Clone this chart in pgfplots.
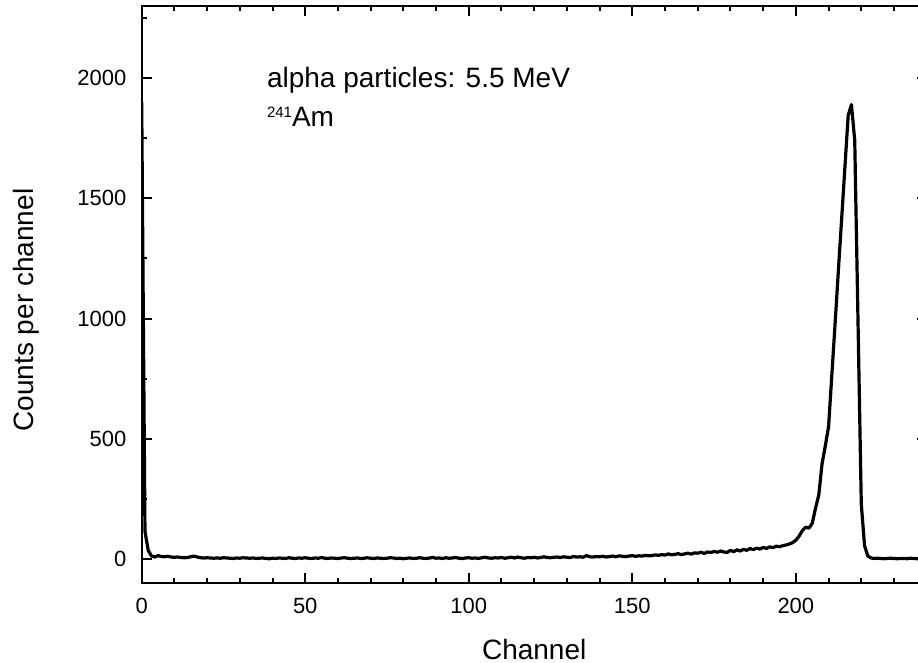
\documentclass[border=0pt]{standalone}
\usepackage{fontspec}
\setmainfont{Liberation Sans}
\usepackage{pgfplots}
\pgfplotsset{compat=1.18}
\begin{document}
\begin{tikzpicture}
\begin{axis}[
  name=ax,
  scale only axis,
  width=392.5pt, height=288.5pt,
  xmin=0, xmax=240, ymin=-100, ymax=2300,
  axis line style={line width=1pt},
  tick style={line width=1pt, black},
  tick align=inside,
  major tick length=5pt, minor tick length=2.5pt,
  xtick={0,50,100,150,200},
  minor xtick={10,20,30,40,60,70,80,90,110,120,130,140,160,170,180,190,210,220,230},
  ytick={0,500,1000,1500,2000},
  minor ytick={250,750,1250,1750,2250},
  tick label style={font=\fontsize{11}{13}\selectfont},
  /pgf/number format/assume math mode=true,
  /pgf/number format/1000 sep={},
  xticklabel style={anchor=north, inner sep=0pt, yshift=-7.5pt},
  yticklabel style={anchor=east, inner sep=0pt, xshift=-7.5pt},
  xlabel={Channel}, ylabel={Counts per channel},
  label style={font=\fontsize{14}{17}\selectfont},
  xlabel style={at={(axis description cs:0.5,-0.0971)}, anchor=north, inner sep=0pt},
  ylabel style={at={(axis description cs:-0.164,0.473)}, anchor=north, inner sep=0pt},
]
% spectrum, counts per channel
\addplot[line width=1.6pt, line join=round, black] coordinates {
(0,1900)(1,115)(2,35)(3,12)(4,8)(5,14)(6,10)(7,9)(8,11)(9,8)
(10,7)(11,8)(12,6)(13,5)(14,6)(15,9)(16,12)(17,8)(18,5)(19,4)
(20,5)(21,4)(22,3)(23,4)(24,3)(25,5)(26,4)(27,3)(28,2)(29,4)
(30,3)(31,5)(32,4)(33,3)(34,4)(35,2)(36,3)(37,4)(38,2)(39,1)
(40,3)(41,2)(42,4)(43,3)(44,2)(45,5)(46,3)(47,2)(48,4)(49,3)
(50,5)(51,3)(52,2)(53,4)(54,3)(55,6)(56,3)(57,2)(58,4)(59,3)
(60,2)(61,4)(62,5)(63,3)(64,2)(65,3)(66,4)(67,2)(68,3)(69,5)
(70,3)(71,2)(72,4)(73,3)(74,2)(75,3)(76,5)(77,4)(78,2)(79,3)
(80,1)(81,3)(82,4)(83,2)(84,3)(85,5)(86,3)(87,2)(88,4)(89,6)
(90,3)(91,4)(92,2)(93,5)(94,3)(95,4)(96,6)(97,3)(98,2)(99,4)
(100,5)(101,3)(102,4)(103,2)(104,5)(105,7)(106,4)(107,3)(108,5)(109,4)
(110,6)(111,3)(112,5)(113,7)(114,4)(115,8)(116,5)(117,3)(118,6)(119,5)
(120,7)(121,4)(122,6)(123,9)(124,6)(125,5)(126,7)(127,8)(128,6)(129,9)
(130,7)(131,6)(132,10)(133,8)(134,9)(135,7)(136,14)(137,9)(138,8)(139,10)
(140,9)(141,11)(142,8)(143,10)(144,12)(145,9)(146,13)(147,11)(148,10)(149,12)
(150,14)(151,11)(152,13)(153,12)(154,15)(155,13)(156,14)(157,17)(158,15)(159,18)
(160,16)(161,21)(162,17)(163,19)(164,22)(165,18)(166,21)(167,24)(168,20)(169,25)
(170,24)(171,28)(172,23)(173,29)(174,27)(175,31)(176,28)(177,33)(178,29)(179,27)
(180,36)(181,30)(182,38)(183,33)(184,40)(185,36)(186,43)(187,39)(188,45)(189,41)
(190,48)(191,44)(192,50)(193,47)(194,53)(195,51)(196,55)(197,58)(198,62)(199,68)
(200,78)(201,95)(202,118)(203,132)(204,128)(205,148)(206,210)(207,265)(208,395)(209,470)
(210,550)(211,765)(212,980)(213,1200)(214,1415)(215,1630)(216,1845)(217,1890)(218,1740)(219,990)
(220,230)(221,55)(222,12)(223,4)(224,2)(225,3)(226,2)(227,1)(228,2)(229,3)
(230,2)(231,1)(232,2)(233,2)(234,1)(235,3)(236,2)(237,1)(238,2)(239,2)(240,1)
};
\node[anchor=base west, inner sep=0pt, font=\fontsize{14}{17}\selectfont]
  at (axis cs:38.2,1960) {alpha particles: 5.5 MeV};
\node[anchor=base west, inner sep=0pt, font=\fontsize{14}{17}\selectfont]
  at (axis cs:38.2,1797) {\raisebox{4.6pt}{\fontsize{7.5}{9}\selectfont 241}Am};
\end{axis}
\pgfresetboundingbox
\useasboundingbox ([shift={(-70.85pt,-40pt)}]ax.south west) rectangle ([shift={(388.15pt,3pt)}]ax.north west);
\end{tikzpicture}
\end{document}
